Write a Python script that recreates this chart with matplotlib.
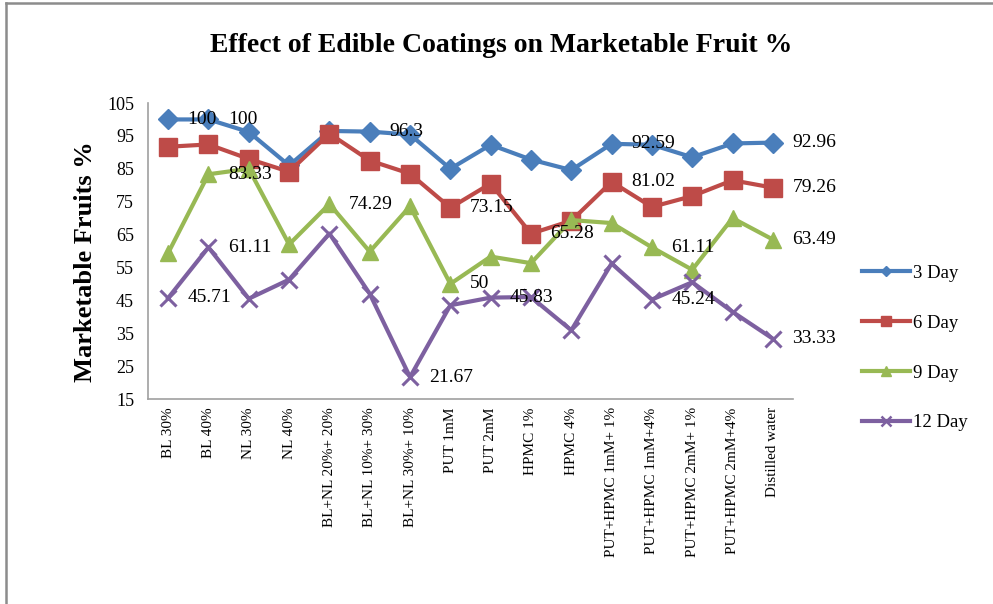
import matplotlib
matplotlib.use("Agg")
import matplotlib.pyplot as plt
from matplotlib.lines import Line2D

categories = ["BL 30%", "BL 40%", "NL 30%", "NL 40%", "BL+NL 20%+ 20%",
              "BL+NL 10%+ 30%", "BL+NL 30%+ 10%", "PUT 1mM", "PUT 2mM",
              "HPMC 1%", "HPMC 4%", "PUT+HPMC 1mM+ 1%", "PUT+HPMC 1mM+4%",
              "PUT+HPMC 2mM+ 1%", "PUT+HPMC 2mM+4%", "Distilled water"]

day3 = [100, 100, 96.2, 86.0, 96.5, 96.3, 95.4, 85.0, 92.3, 87.8, 84.6, 92.59, 92.3, 88.5, 92.7, 92.96]
day6 = [91.7, 92.4, 88.0, 84.1, 95.7, 87.5, 83.5, 73.15, 80.5, 65.28, 69.2, 81.02, 73.4, 76.7, 81.5, 79.26]
day9 = [59.4, 83.33, 85.0, 62.0, 74.29, 59.8, 73.6, 50.0, 58.3, 56.3, 69.4, 68.5, 61.11, 54.3, 70.0, 63.49]
day12 = [45.71, 61.11, 45.5, 51.3, 65.3, 47.0, 21.67, 43.5, 45.83, 46.0, 35.9, 56.2, 45.24, 50.5, 41.5, 33.33]

series_names = ["3 Day", "6 Day", "9 Day", "12 Day"]
series_values = [day3, day6, day9, day12]

# indices of points carrying a data label, per series
label_idx = [[0, 1, 5, 11, 15],
             [7, 9, 11, 15],
             [1, 4, 7, 12, 15],
             [0, 1, 6, 8, 12, 15]]

yticks = [15, 25, 35, 45, 55, 65, 75, 85, 95, 105]

colors = ["#4A7EBB", "#BE4B48", "#98B954", "#7D60A0"]
markers = ["D", "s", "^", "x"]
msizes = [10, 12.5, 12, 12]

plt.rcParams['font.family'] = ['Liberation Serif', 'DejaVu Serif']

fig = plt.figure(figsize=(9.93, 6.04), dpi=100)
ax = fig.add_axes([148/993, 1-399/604, (793-148)/993, (399-103)/604])

x = list(range(len(categories)))
handles = []
for name, vals, c, m, ms, lidx in zip(series_names, series_values, colors, markers, msizes, label_idx):
    if m == "x":
        ln, = ax.plot(x, vals, color=c, lw=3, marker=m, ms=ms, mew=2.2, label=name)
    else:
        ln, = ax.plot(x, vals, color=c, lw=3, marker=m, ms=ms, mfc=c, mec=c, label=name)
    for i in lidx:
        v = vals[i]
        txt = f"{v:g}"
        ax.annotate(txt, (i, v), xytext=(14, 0), textcoords="offset points",
                    ha="left", va="center", fontsize=14, color="black")
    handles.append(Line2D([0], [0], color=c, lw=3, marker=m,
                          ms=ms*0.55, mew=1.8 if m == "x" else 1, mfc=c, mec=c))

ax.set_xlim(-0.5, len(categories) - 0.5)
ax.set_ylim(15, 105)
ax.set_yticks(yticks)
ax.set_yticklabels([str(t) for t in yticks], fontsize=13)
ax.set_xticks(x)
ax.set_xticklabels(categories, rotation=90, fontsize=11)
ax.tick_params(axis="both", length=0)
ax.tick_params(axis="x", pad=6)
ax.tick_params(axis="y", pad=10)
for s in ["top", "right"]:
    ax.spines[s].set_visible(False)
for s in ["left", "bottom"]:
    ax.spines[s].set_color("#A0A0A0")
    ax.spines[s].set_linewidth(1.2)

fig.text(85/993, 1-262/604, "Marketable Fruits %", rotation=90,
         ha="center", va="center", fontsize=19, fontweight="bold")

fig.text(501/993, 1-52/604, "Effect of Edible Coatings on Marketable Fruit %",
         ha="center", va="baseline", fontsize=20, fontweight="bold")

leg = fig.legend(handles, series_names, loc="center left",
                 bbox_to_anchor=(862/993, 1-348/604), frameon=False,
                 fontsize=13.5, handlelength=2.55, handletextpad=0.18,
                 labelspacing=1.75, borderpad=0, borderaxespad=0)

# outer chart frame
fig.add_artist(Line2D([6/993, 1], [1-3/604, 1-3/604], color="#8C8C8C", lw=1.8,
                      transform=fig.transFigure))
fig.add_artist(Line2D([6/993, 6/993], [0, 1-3/604], color="#8C8C8C", lw=1.8,
                      transform=fig.transFigure))

fig.savefig("out.png", dpi=100)
